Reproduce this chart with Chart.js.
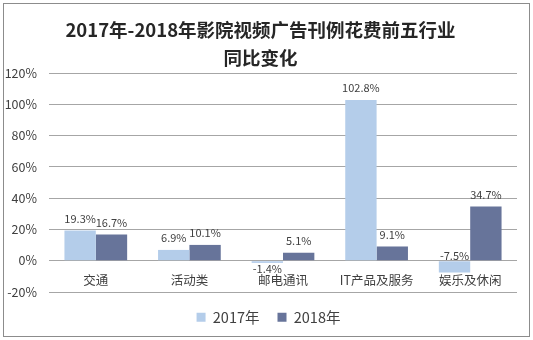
<!DOCTYPE html>
<html>
<head>
<meta charset="utf-8">
<script src="https://cdn.jsdelivr.net/npm/chart.js@4"></script>
<style>
  html, body { margin: 0; padding: 0; background: #fff; }
  #wrap { width: 533px; height: 340px; }
</style>
</head>
<body>
<div id="wrap"><canvas id="chart" width="533" height="340"></canvas></div>
<script>
const industries = ["交通", "活动类", "邮电通讯", "IT产品及服务", "娱乐及休闲"];
const growth2017 = [19.3, 6.9, -1.4, 102.8, -7.5];
const growth2018 = [16.7, 10.1, 5.1, 9.1, 34.7];
const yTicks = [-20, 0, 20, 40, 60, 80, 100, 120];

const textColor = "#404040";
Chart.defaults.font.family = "'Noto Sans CJK SC', 'Noto Sans', sans-serif";
Chart.defaults.color = textColor;

// white page with a thin grey frame round the whole chart
const framePlugin = {
  id: "frame",
  beforeDraw(chart) {
    const ctx = chart.ctx;
    ctx.save();
    ctx.fillStyle = "#fff";
    ctx.fillRect(0, 0, chart.width, chart.height);
    ctx.strokeStyle = "#8c8c8c";
    ctx.lineWidth = 1;
    ctx.strokeRect(3.5, 3.5, chart.width - 7, chart.height - 7);
    ctx.restore();
  }
};

// the legend sits a little right of the title's centre line
const legendShift = {
  id: "legendShift",
  afterLayout(chart) {
    chart.legend.left += 8;
    chart.legend.right += 8;
  }
};

// value labels: above positive bars, under short negative bars,
// and above the zero line when a negative bar is too long
const valueLabels = {
  id: "valueLabels",
  afterDatasetsDraw(chart) {
    const ctx = chart.ctx;
    ctx.save();
    ctx.font = "11px 'Noto Sans CJK SC', sans-serif";
    ctx.fillStyle = textColor;
    ctx.textAlign = "center";
    ctx.textBaseline = "middle";
    chart.data.datasets.forEach((ds, i) => {
      const meta = chart.getDatasetMeta(i);
      meta.data.forEach((bar, j) => {
        const v = ds.data[j];
        let y;
        if (v >= 0) {
          y = bar.y - 12;
        } else if (bar.y - bar.base > 6) {
          y = bar.base - 5;
        } else {
          y = bar.y + 6;
        }
        ctx.fillText(v.toFixed(1) + "%", bar.x, y);
      });
    });
    ctx.restore();
  }
};

new Chart(document.getElementById("chart"), {
  type: "bar",
  data: {
    labels: industries,
    datasets: [
      {
        label: "2017年",
        data: growth2017,
        backgroundColor: "#b4cdea",
        categoryPercentage: 0.67,
        barPercentage: 1
      },
      {
        label: "2018年",
        data: growth2018,
        backgroundColor: "#67749a",
        categoryPercentage: 0.67,
        barPercentage: 1
      }
    ]
  },
  options: {
    responsive: false,
    animation: false,
    layout: { padding: { left: 4, right: 16, top: 0, bottom: 5.5 } },
    plugins: {
      title: {
        display: true,
        text: ["2017年-2018年影院视频广告刊例花费前五行业", "同比变化"],
        color: "#262626",
        font: { size: 18.5, weight: "bold", lineHeight: 28 / 18.5 },
        padding: { top: 16, bottom: 1 }
      },
      legend: {
        position: "bottom",
        labels: {
          boxWidth: 9,
          boxHeight: 9,
          padding: 18,
          color: textColor,
          font: { size: 14.5 }
        }
      },
      tooltip: { enabled: false }
    },
    scales: {
      x: {
        position: { y: 0 },
        grid: { display: false, drawTicks: false },
        border: { display: false },
        ticks: { padding: 12, color: textColor, font: { size: 12.5 } }
      },
      y: {
        min: yTicks[0],
        max: yTicks[yTicks.length - 1],
        afterBuildTicks: (scale) => {
          scale.ticks = yTicks.map((v) => ({ value: v }));
        },
        afterFit: (scale) => {
          scale.width = 45;
        },
        grid: { color: "#a6a6a6", drawTicks: false },
        border: { display: false },
        ticks: {
          padding: 12,
          color: textColor,
          font: { size: 12.5 },
          callback: (v) => v + "%"
        }
      }
    }
  },
  plugins: [framePlugin, legendShift, valueLabels]
});
</script>
</body>
</html>
